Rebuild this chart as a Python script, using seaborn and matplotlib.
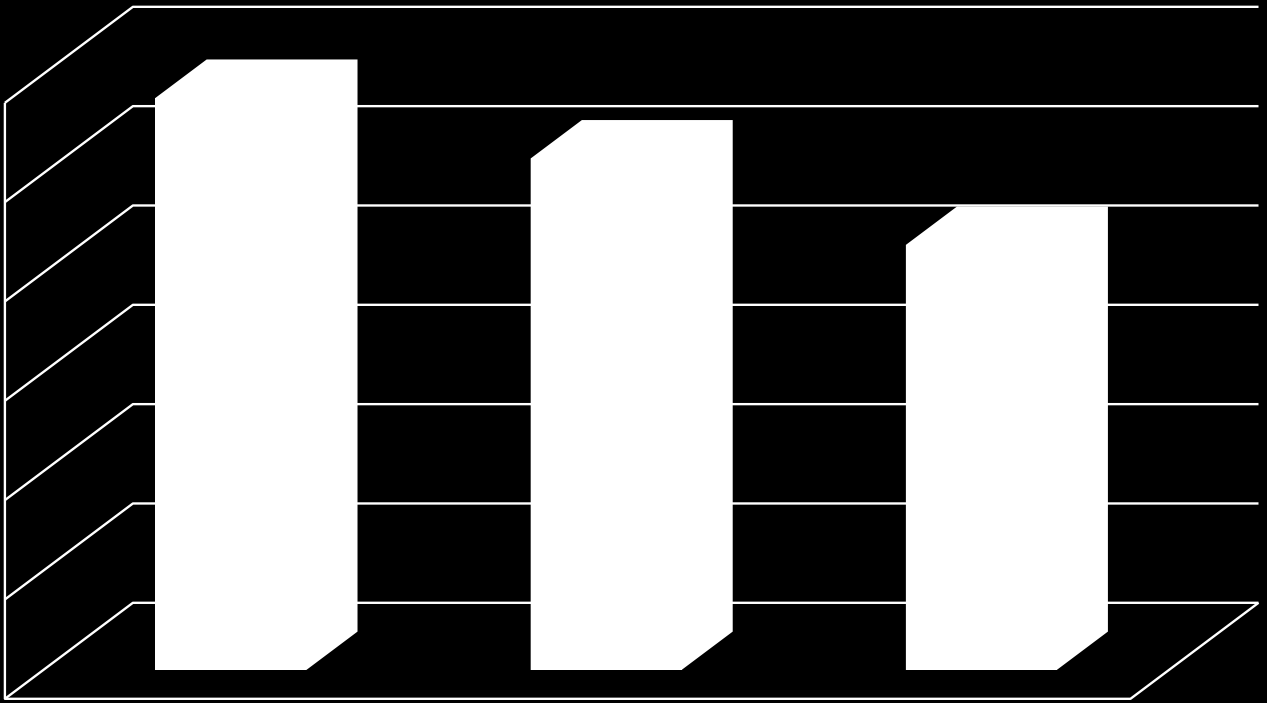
import pandas as pd
import seaborn as sns
import matplotlib.pyplot as plt

categories = ['1', '2', '3']
values = [5.76, 5.15, 4.28]
grid_levels = [0, 1, 2, 3, 4, 5, 6]

# pixel sizes of the oblique projection
W, H = 1267, 703
cat_px = 375.2
left_px = 43.3
unit_px = 99.33
depth_x = 128
depth_y = 96
bar_width = 0.402
floor_depth = -0.3
wall_depth = 0.7
bar_depth = 0.4


def shift(c, v, d):
    return c + d * depth_x / cat_px, v + d * depth_y / unit_px


def oblique(points, d):
    return [shift(c, v, d) for c, v in points]


sns.set_style('white')
fig = plt.figure(figsize=(W / 100, H / 100), dpi=100, facecolor='black')
ax = fig.add_axes([0, 0, 1, 1])

df = pd.DataFrame({'category': categories, 'value': values})
sns.barplot(data=df, x='category', y='value', color='white', saturation=1,
            width=bar_width, linewidth=0, zorder=3, ax=ax)

# extruded side and top of each bar
for i, val in enumerate(values):
    left, right = i - bar_width / 2, i + bar_width / 2
    outline = [(left, val), shift(left, val, bar_depth), shift(right, val, bar_depth),
               shift(right, 0, bar_depth), (right, 0), (left, 0)]
    ax.fill(*zip(*outline), color='white', lw=0, zorder=3)

# back wall, side wall and floor
line = dict(color='white', lw=1.7, solid_capstyle='butt', zorder=2)
x0, x1 = -0.5, len(categories) - 0.5
for level in grid_levels:
    a = shift(x0, level, floor_depth)
    b = shift(x0, level, wall_depth)
    c = shift(x1, level, wall_depth)
    ax.plot([a[0], b[0], c[0]], [a[1], b[1], c[1]], **line)

corners = oblique([(x0, grid_levels[-1]), (x0, 0), (x1, 0)], floor_depth)
corners.append(shift(x1, 0, wall_depth))
ax.plot(*zip(*corners), **line)

ax.set_xlim(-0.5 - left_px / cat_px, -0.5 + (W - left_px) / cat_px)
ax.set_ylim((670 - H) / unit_px, 670 / unit_px)
ax.axis('off')

fig.savefig('out.png', dpi=100, facecolor='black')
